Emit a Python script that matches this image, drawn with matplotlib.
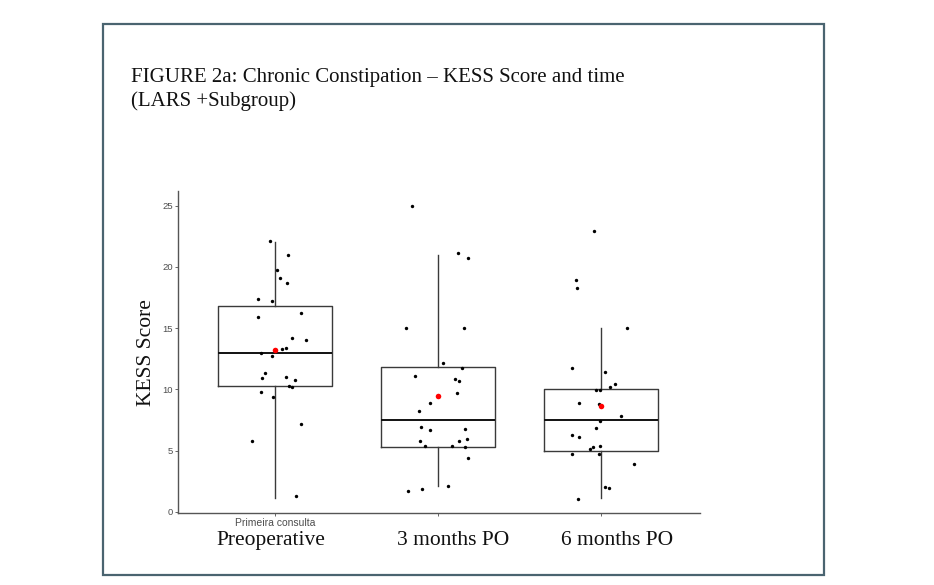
import matplotlib
matplotlib.use("Agg")
import matplotlib.pyplot as plt
from matplotlib.patches import Rectangle

# categories
groups = ["Preoperative", "3 months PO", "6 months PO"]

# box stats (low whisker, Q1, median, Q3, high whisker)
whislo = [1.1, 2.1, 1.1]
q1 = [10.3, 5.3, 5.0]
med = [13.0, 7.5, 7.5]
q3 = [16.8, 11.8, 10.0]
whishi = [22.0, 21.0, 15.0]
means = [13.2, 9.45, 8.65]

# jittered points (x offset around group position, score)
pre_x = [-0.032, 0.077, 0.010, 0.028, 0.071, -0.105, -0.022, -0.109, 0.154, 0.103,
         0.186, 0.065, 0.041, -0.089, -0.022, -0.067, -0.083, 0.063, 0.120, 0.085,
         0.103, -0.091, -0.014, 0.160, -0.142, 0.124]
pre_y = [22.1, 21.0, 19.7, 19.1, 18.7, 17.4, 17.2, 15.9, 16.2, 14.2,
         14.0, 13.4, 13.3, 13.0, 12.7, 11.3, 10.9, 11.0, 10.8, 10.3,
         10.2, 9.75, 9.35, 7.15, 5.8, 1.3]
m3_x = [-0.164, 0.119, 0.184, -0.200, 0.160, 0.029, 0.143, -0.141, 0.102, 0.127,
        0.115, -0.051, -0.117, -0.106, -0.049, 0.164, 0.178, -0.115, 0.127, -0.084,
        0.082, 0.162, 0.184, 0.057, -0.100, -0.188]
m3_y = [25.0, 21.1, 20.7, 15.0, 15.0, 12.15, 11.7, 11.1, 10.85, 10.65,
        9.7, 8.9, 8.2, 6.9, 6.7, 6.75, 5.95, 5.75, 5.8, 5.35,
        5.4, 5.3, 4.35, 2.1, 1.9, 1.7]
m6_x = [-0.043, -0.155, -0.149, 0.157, -0.178, 0.025, 0.082, 0.053, -0.033, -0.006,
        -0.135, -0.016, 0.123, -0.010, -0.031, -0.178, -0.137, -0.006, -0.049, -0.070,
        -0.178, -0.016, 0.202, 0.020, 0.049, -0.145]
m6_y = [22.9, 18.9, 18.3, 15.0, 11.75, 11.4, 10.4, 10.2, 9.95, 9.95,
        8.9, 8.8, 7.8, 7.45, 6.8, 6.25, 6.1, 5.4, 5.25, 5.1,
        4.75, 4.7, 3.9, 2.05, 1.95, 1.05]

plt.rcParams["font.family"] = ["Liberation Sans", "DejaVu Sans"]

fig = plt.figure(figsize=(9.34, 5.85), dpi=100)

# outer frame
fig.patches.append(Rectangle((103 / 934, 1 - 575 / 585), 721 / 934, 551 / 585,
                             transform=fig.transFigure, fill=False,
                             edgecolor="#4a6470", linewidth=1.6, zorder=0))

fig.text(131 / 934, 1 - 82 / 585, "FIGURE 2a: Chronic Constipation \u2013 KESS Score and time",
         family="Liberation Serif", fontsize=15, color="#111111", va="baseline")
fig.text(131 / 934, 1 - 106 / 585, "(LARS +Subgroup)",
         family="Liberation Serif", fontsize=15, color="#111111", va="baseline")

ax = fig.add_axes([177.5 / 934, 1 - 513 / 585, (700 - 177.5) / 934, (513 - 191.5) / 585])

pos = [1, 2, 3]
stats = []
for i, g in enumerate(groups):
    stats.append(dict(label=g, whislo=whislo[i], q1=q1[i], med=med[i], q3=q3[i],
                      whishi=whishi[i], fliers=[]))
ax.bxp(stats, positions=pos, widths=0.7, showcaps=False, showfliers=False,
       boxprops=dict(color="#3a3a3a", linewidth=1.0),
       whiskerprops=dict(color="#3a3a3a", linewidth=1.0),
       medianprops=dict(color="#111111", linewidth=1.4))

for p, xs, ys in zip(pos, [pre_x, m3_x, m6_x], [pre_y, m3_y, m6_y]):
    ax.scatter([p + dx for dx in xs], ys, s=6, color="black", zorder=3, linewidths=0)
ax.scatter(pos, means, s=16, color="red", zorder=4, linewidths=0)

ax.set_xlim(0.399, 3.606)
ax.set_ylim(-0.1, 26.15)
ax.set_yticks([0, 5, 10, 15, 20, 25])
ax.set_yticklabels(["0", "5", "10", "15", "20", "25"])
ax.set_xticks(pos)
ax.set_xticklabels(["", "", ""])
ax.tick_params(axis="y", labelsize=6.8, colors="#4d4d4d", length=2, width=0.6, pad=1.5)
ax.tick_params(axis="x", length=2, width=0.6, colors="#4d4d4d")
for s in ["top", "right"]:
    ax.spines[s].set_visible(False)
for s in ["left", "bottom"]:
    ax.spines[s].set_color("#555555")
    ax.spines[s].set_linewidth(1.0)

ax.set_ylabel("KESS Score", family="Liberation Serif", fontsize=15.5, color="#111111", labelpad=4)

# x labels drawn below axis
ax.text(1, -0.5, "Primeira consulta", ha="center", va="top",
        fontsize=7.5, color="#4d4d4d")
label_shift = [-0.03, 0.088, 0.10]
for p, g, d in zip(pos, groups, label_shift):
    ax.text(p + d, -1.6, g, ha="center", va="top",
            family="Liberation Serif", fontsize=15.5, color="#111111")

fig.savefig("out.png", dpi=100)
